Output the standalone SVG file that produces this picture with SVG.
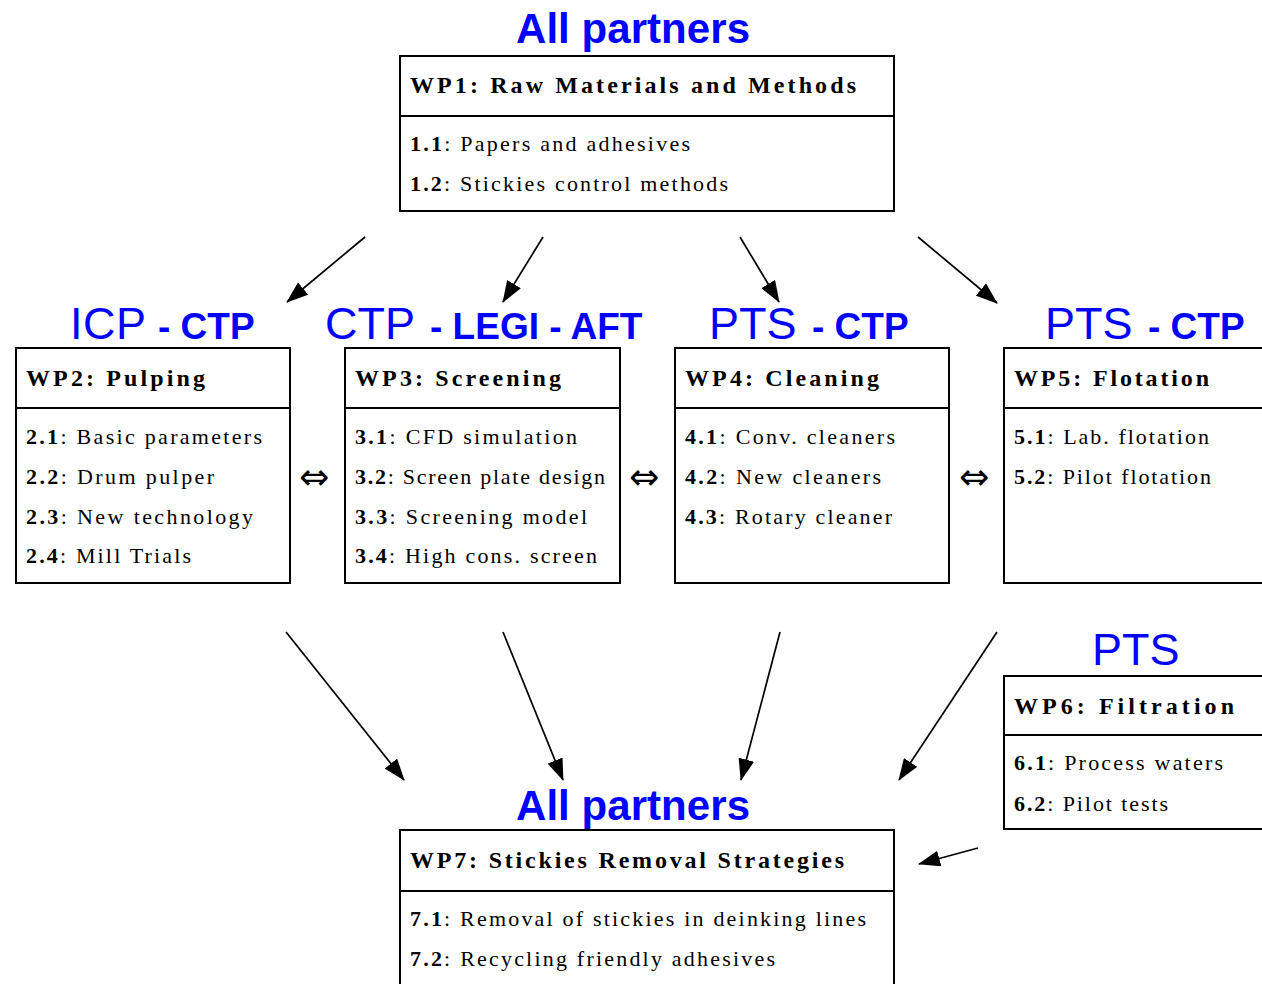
<svg xmlns="http://www.w3.org/2000/svg" width="1262" height="984" viewBox="0 0 1262 984">
<style>
.box{fill:#fff;stroke:#000;stroke-width:2}
.div{stroke:#000;stroke-width:2}
.t{font-family:"Liberation Serif","Times New Roman",serif;font-size:24px;font-weight:bold;fill:#000}
.i{font-family:"Liberation Serif","Times New Roman",serif;font-size:22px;fill:#000}
.b{font-weight:bold}
.lab{font-family:"Liberation Sans",Arial,sans-serif;fill:#0000ff;font-size:45px}
.lb{font-weight:bold;font-size:37px}
.ap{font-family:"Liberation Sans",Arial,sans-serif;fill:#0000ff;font-size:42px;font-weight:bold}
.dbl{font-family:"DejaVu Sans",sans-serif;font-size:36px;fill:#000}
.conn line{stroke:#000;stroke-width:1.7;marker-end:url(#ah)}
</style>
<defs>
<marker id="ah" viewBox="0 0 22 16" refX="21" refY="8" markerWidth="22" markerHeight="16" markerUnits="userSpaceOnUse" orient="auto">
<path d="M0,0 L22,8 L0,16 Z" fill="#000"/>
</marker>
</defs>
<rect width="1262" height="984" fill="#fff"/>

<g id="labels">
<text class="ap" x="633" y="43" text-anchor="middle" textLength="234">All partners</text>
<text class="lab" y="339"><tspan x="70" textLength="76">ICP</tspan><tspan class="lb" x="158">- CTP</tspan></text>
<text class="lab" y="339"><tspan x="325">CTP</tspan><tspan class="lb" x="430">- LEGI - AFT</tspan></text>
<text class="lab" y="339"><tspan x="709">PTS</tspan><tspan class="lb" x="812">- CTP</tspan></text>
<text class="lab" y="339"><tspan x="1045">PTS</tspan><tspan class="lb" x="1148">- CTP</tspan></text>
<text class="lab" x="1092" y="665">PTS</text>
<text class="ap" x="633" y="820" text-anchor="middle" textLength="234">All partners</text>
</g>

<g id="wp1">
<rect class="box" x="400" y="56" width="494" height="155"/>
<line class="div" x1="400" y1="116" x2="894" y2="116"/>
<text class="t" x="410" y="93" textLength="446">WP1: Raw Materials and Methods</text>
<text class="i" x="410" y="151" textLength="280"><tspan class="b">1.1</tspan>: Papers and adhesives</text>
<text class="i" x="410" y="191" textLength="318"><tspan class="b">1.2</tspan>: Stickies control methods</text>
</g>

<g id="wp2">
<rect class="box" x="16" y="348" width="274" height="235"/>
<line class="div" x1="16" y1="408" x2="290" y2="408"/>
<text class="t" x="26" y="386" textLength="179">WP2: Pulping</text>
<text class="i" x="26" y="444" textLength="236"><tspan class="b">2.1</tspan>: Basic parameters</text>
<text class="i" x="26" y="484" textLength="188"><tspan class="b">2.2</tspan>: Drum pulper</text>
<text class="i" x="26" y="524" textLength="227"><tspan class="b">2.3</tspan>: New technology</text>
<text class="i" x="26" y="563" textLength="165"><tspan class="b">2.4</tspan>: Mill Trials</text>
</g>

<g id="wp3">
<rect class="box" x="345" y="348" width="275" height="235"/>
<line class="div" x1="345" y1="408" x2="620" y2="408"/>
<text class="t" x="355" y="386" textLength="206">WP3: Screening</text>
<text class="i" x="355" y="444" textLength="222"><tspan class="b">3.1</tspan>: CFD simulation</text>
<text class="i" x="355" y="484" textLength="250"><tspan class="b">3.2</tspan>: Screen plate design</text>
<text class="i" x="355" y="524" textLength="232"><tspan class="b">3.3</tspan>: Screening model</text>
<text class="i" x="355" y="563" textLength="242"><tspan class="b">3.4</tspan>: High cons. screen</text>
</g>

<g id="wp4">
<rect class="box" x="675" y="348" width="274" height="235"/>
<line class="div" x1="675" y1="408" x2="949" y2="408"/>
<text class="t" x="685" y="386" textLength="194">WP4: Cleaning</text>
<text class="i" x="685" y="444" textLength="210"><tspan class="b">4.1</tspan>: Conv. cleaners</text>
<text class="i" x="685" y="484" textLength="196"><tspan class="b">4.2</tspan>: New cleaners</text>
<text class="i" x="685" y="524" textLength="207"><tspan class="b">4.3</tspan>: Rotary cleaner</text>
</g>

<g id="wp5">
<rect class="box" x="1004" y="348" width="280" height="235"/>
<line class="div" x1="1004" y1="408" x2="1284" y2="408"/>
<text class="t" x="1014" y="386" textLength="195">WP5: Flotation</text>
<text class="i" x="1014" y="444" textLength="195"><tspan class="b">5.1</tspan>: Lab. flotation</text>
<text class="i" x="1014" y="484" textLength="197"><tspan class="b">5.2</tspan>: Pilot flotation</text>
</g>

<g id="wp6">
<rect class="box" x="1004" y="676" width="280" height="153"/>
<line class="div" x1="1004" y1="735" x2="1284" y2="735"/>
<text class="t" x="1014" y="714" textLength="220">WP6: Filtration</text>
<text class="i" x="1014" y="770" textLength="209"><tspan class="b">6.1</tspan>: Process waters</text>
<text class="i" x="1014" y="811" textLength="154"><tspan class="b">6.2</tspan>: Pilot tests</text>
</g>

<g id="wp7">
<rect class="box" x="400" y="830" width="494" height="180"/>
<line class="div" x1="400" y1="891" x2="894" y2="891"/>
<text class="t" x="410" y="868" textLength="434">WP7: Stickies Removal Strategies</text>
<text class="i" x="410" y="926" textLength="456"><tspan class="b">7.1</tspan>: Removal of stickies in deinking lines</text>
<text class="i" x="410" y="966" textLength="365"><tspan class="b">7.2</tspan>: Recycling friendly adhesives</text>
</g>

<g id="bidir">
<text class="dbl" x="314" y="489" text-anchor="middle">⇔</text>
<text class="dbl" x="644" y="489" text-anchor="middle">⇔</text>
<text class="dbl" x="974" y="489" text-anchor="middle">⇔</text>
</g>

<g class="conn" id="connectors">
<line x1="365" y1="237" x2="287" y2="302"/>
<line x1="543" y1="237" x2="503" y2="302"/>
<line x1="740" y1="237" x2="779" y2="302"/>
<line x1="918" y1="237" x2="997" y2="303"/>
<line x1="286" y1="632" x2="404" y2="780"/>
<line x1="503" y1="632" x2="563" y2="780"/>
<line x1="780" y1="632" x2="741" y2="780"/>
<line x1="997" y1="632" x2="899" y2="780"/>
<line x1="978" y1="848" x2="919" y2="864"/>
</g>
</svg>
